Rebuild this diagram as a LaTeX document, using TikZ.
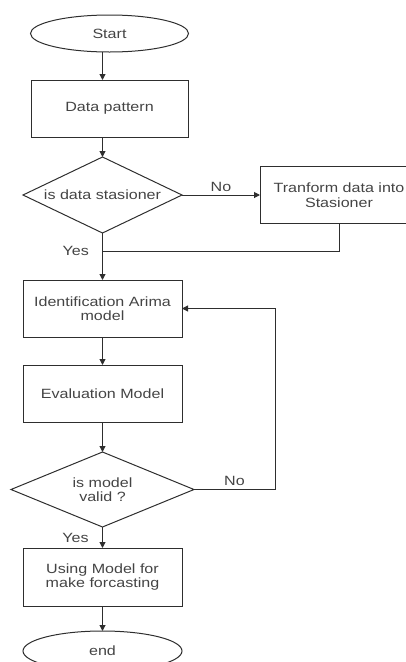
\documentclass[tikz,border=0pt]{standalone}
\usepackage{fontspec}
\setmainfont{Liberation Sans}[FakeStretch=1.2]
\usetikzlibrary{shapes.geometric, positioning, arrows.meta, calc}
\definecolor{flowLine}{HTML}{2E2E2E}
\definecolor{flowText}{HTML}{444444}
\newcommand{\flowfont}{\fontsize{13.4}{14.5}\selectfont}

\begin{document}
\begin{tikzpicture}[
    x=1pt, y=1pt,
    node distance=28pt,
    term/.style={
        draw=flowLine, ellipse, line width=1pt, minimum width=158pt, outer sep=0pt,
        minimum height=37pt, font=\flowfont, text=flowText, inner sep=1pt
    },
    proc/.style={
        draw=flowLine, rectangle, line width=1pt, minimum width=159pt, outer sep=0pt,
        minimum height=57pt, font=\flowfont, text=flowText, align=center
    },
    dec/.style={
        draw=flowLine, diamond, line width=1pt, aspect=2.1, inner sep=1pt, outer sep=0pt,
        font=\flowfont, text=flowText, align=center
    },
    arr/.style={draw=flowLine, line width=1pt, -{Triangle[length=6pt,width=6pt]}},
    lbl/.style={font=\flowfont, text=flowText}
]
\useasboundingbox (0,0) rectangle (406,-662);

% === Main column ===
\node[term] (start) at (109.5,-33.5) {Start};
\node[proc, minimum width=157pt, below=28pt of start] (data) {Data pattern};
\node[dec, minimum width=159pt, minimum height=76pt, below=20pt of data, xshift=-7pt] (isstat) {is data stasioner};
\node[proc, minimum width=158pt, right=78pt of isstat] (trans) {Tranform data into\\Stasioner};
\node[proc, below=47pt of isstat] (ident) {Identification Arima\\model};
\node[proc, below=28pt of ident] (eval) {Evaluation Model};
\node[dec, aspect=2.44, minimum width=183pt, minimum height=75pt, below=30pt of eval] (valid) {is model\\valid ?};
\node[proc, minimum height=58pt, below=21pt of valid] (using) {Using Model for\\make forcasting};
\node[term, minimum width=159pt, minimum height=40pt, below=25pt of using] (stop) {end};

% helper points
\coordinate (join) at ($(isstat.south)+(0,-18)$);
\coordinate (loop) at ($(valid.east)+(81,0)$);

% === Connectors ===
\draw[arr] (start.south -| isstat.north) -- (data.north -| isstat.north);
\draw[arr] (data.south -| isstat.north) -- (isstat.north);
\draw[arr] (isstat.east) -- node[lbl, above] {No} (trans.west);
\draw[arr] (isstat.south) -- (ident.north);
\node[lbl, left=10pt] at (join) {Yes};
\draw[draw=flowLine, line width=1pt] (trans.south) |- (join);
\draw[arr] (ident) -- (eval);
\draw[arr] (eval) -- (valid);
\draw[arr] (valid.east) -- node[lbl, above] {No} (loop) |- (ident.east);
\draw[arr] (valid.south) -- node[lbl, left=10pt] {Yes} (using.north);
\draw[arr] (using) -- (stop);

\end{tikzpicture}
\end{document}
